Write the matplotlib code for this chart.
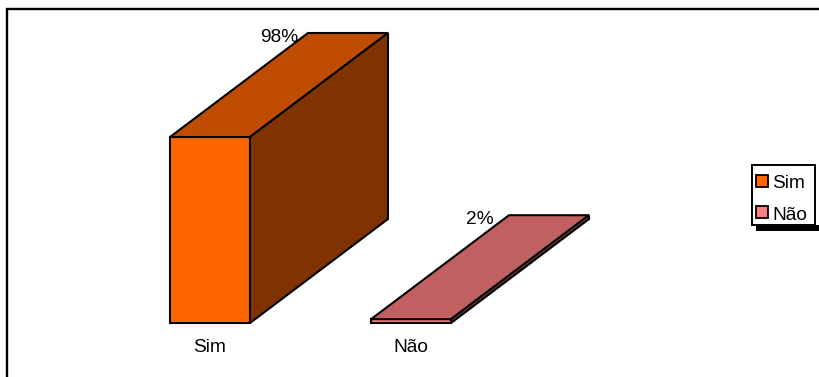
import matplotlib.pyplot as plt
from matplotlib.patches import Polygon, Rectangle

# Data
categories = ['Sim', 'Não']
values = [98, 2]
labels = ['98%', '2%']
front_colors = ['#FF6600', '#FF8080']
top_colors = ['#BF4C00', '#C06060']
side_colors = ['#803300', '#804040']

# Layout in pixels
W, H = 819, 377
base_y = 323
px_per_pct = 186 / 98
bar_w = 80
x_first = 170
x_step = 201
dx, dy = 138, -104

fig = plt.figure(figsize=(W / 100, H / 100), dpi=100)
ax = fig.add_axes([0, 0, 1, 1])
ax.set_xlim(0, W)
ax.set_ylim(H, 0)
ax.axis('off')

plt.rcParams['font.family'] = ['Liberation Sans', 'DejaVu Sans']
fs = 13.8

# outer frame (top and left edges visible)
ax.plot([7, 7, W + 5], [H + 5, 9, 9], color='black', lw=1.7, solid_joinstyle='miter')

for i, (cat, v) in enumerate(zip(categories, values)):
    x0 = x_first + i * x_step
    x1 = x0 + bar_w
    top = base_y - v * px_per_pct
    ekw = dict(edgecolor='black', lw=1.5, joinstyle='miter')
    # front face
    ax.add_patch(Polygon([(x0, base_y), (x1, base_y), (x1, top), (x0, top)],
                         closed=True, facecolor=front_colors[i], **ekw))
    # top face
    ax.add_patch(Polygon([(x0, top), (x1, top), (x1 + dx, top + dy), (x0 + dx, top + dy)],
                         closed=True, facecolor=top_colors[i], **ekw))
    # side face
    ax.add_patch(Polygon([(x1, base_y), (x1 + dx, base_y + dy), (x1 + dx, top + dy), (x1, top)],
                         closed=True, facecolor=side_colors[i], **ekw))
    # value label
    ax.text(x0 + bar_w / 2 + dx / 2, top + dy + 9, labels[i], fontsize=fs,
            ha='center', va='baseline')
    # category label
    ax.text(x0 + bar_w / 2, 352.5, cat, fontsize=fs, ha='center', va='baseline')

# legend box with shadow along the bottom
lx, ly, lw_, lh = 752, 165, 63, 60
ax.add_patch(Rectangle((lx + 4, ly + lh), lw_, 6, facecolor='black', edgecolor='none'))
ax.add_patch(Rectangle((lx, ly), lw_, lh, facecolor='white', edgecolor='black', lw=1.4))
for i, cat in enumerate(categories):
    sy = 175 + i * 31
    ax.add_patch(Rectangle((756, sy), 12, 12, facecolor=front_colors[i],
                           edgecolor='black', lw=1.3))
    ax.text(772, sy + 13.5, cat, fontsize=fs, ha='left', va='baseline')

fig.savefig('out.png', dpi=100)
